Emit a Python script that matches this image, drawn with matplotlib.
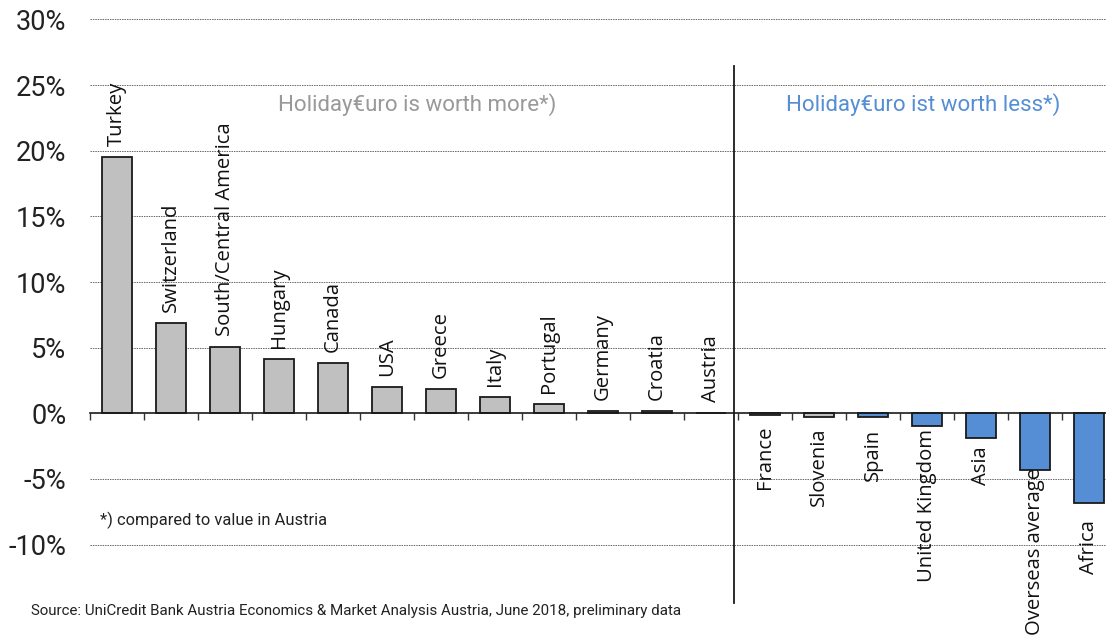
import matplotlib
matplotlib.use('Agg')
import matplotlib.pyplot as plt

countries = ['Turkey', 'Switzerland', 'South/Central America', 'Hungary', 'Canada',
             'USA', 'Greece', 'Italy', 'Portugal', 'Germany', 'Croatia', 'Austria',
             'France', 'Slovenia', 'Spain', 'United Kingdom', 'Asia',
             'Overseas average', 'Africa']
values = [19.5, 6.9, 5.05, 4.15, 3.8, 2.0, 1.85, 1.25, 0.7, 0.2, 0.2, 0.0,
          -0.1, -0.25, -0.3, -1.0, -1.9, -4.35, -6.8]
yticks = [-10, -5, 0, 5, 10, 15, 20, 25, 30]

# label gap from bar end, in points (Excel placed them a bit unevenly)
label_gap = [8] * 12 + [8, 8, 8, 1.5, 6, -2, 12.5]

grey = '#c0c0c0'
blue = '#558ed5'
colors = [grey if v > -0.28 else blue for v in values]

fig = plt.figure(figsize=(11.06, 6.37), dpi=100)
ax = fig.add_axes([90 / 1106, 0.145, 1026 / 1106, 0.8245])

x = list(range(len(countries)))
ax.bar(x, values, width=0.54, color=colors, edgecolor='#1a1a1a', linewidth=1.3, zorder=3)

ax.set_xlim(-0.5, 18.5)
ax.set_ylim(-10, 30)
ax.set_yticks(yticks)
ax.set_yticklabels([f'{t}%' for t in yticks], fontfamily='Roboto', fontsize=19.5, color='#222222')
ax.tick_params(axis='y', length=0, pad=17)

for t in yticks:
    if t != 0:
        ax.axhline(t, color='#666666', lw=0.7, ls=(0, (1.5, 1)), zorder=1, clip_on=False)

# category boundaries as ticks on the zero line
ax.set_xticks([i - 0.5 for i in range(len(countries) + 1)])
ax.set_xticklabels([])
ax.tick_params(axis='x', direction='out', length=5, width=1, color='#333333')

for s in ['top', 'right', 'left']:
    ax.spines[s].set_visible(False)
ax.spines['bottom'].set_position(('data', 0))
ax.spines['bottom'].set_color('#1a1a1a')
ax.spines['bottom'].set_linewidth(1.2)
ax.spines['bottom'].set_zorder(4)

for i, (name, v) in enumerate(zip(countries, values)):
    g = label_gap[i]
    if v >= 0:
        ax.annotate(name, (i, v), xytext=(0, g), textcoords='offset points',
                    rotation=90, ha='center', va='bottom', fontsize=14.6,
                    fontfamily='Open Sans', color='#111111', annotation_clip=False)
    else:
        ax.annotate(name, (i, v), xytext=(0, -g), textcoords='offset points',
                    rotation=90, ha='center', va='top', fontsize=14.6,
                    fontfamily='Open Sans', color='#111111', annotation_clip=False)

# separator between the two groups
ax.plot([11.43, 11.43], [26.45, -14.45], color='#1a1a1a', lw=1.3, clip_on=False, zorder=5)

ax.text(417 / 1106, 1 - 105 / 637, 'Holiday€uro is worth more*)', transform=fig.transFigure,
        ha='center', va='center', fontsize=16, fontfamily='Roboto', color='#999999')
ax.text(923 / 1106, 1 - 105 / 637, 'Holiday€uro ist worth less*)', transform=fig.transFigure,
        ha='center', va='center', fontsize=16, fontfamily='Roboto', color=blue)

fig.text(100 / 1106, 1 - 520 / 637, '*) compared to value in Austria', ha='left', va='center',
         fontsize=11.9, fontfamily='Roboto', color='#222222')
fig.text(31 / 1106, 1 - 611 / 637,
         'Source: UniCredit Bank Austria Economics & Market Analysis Austria, June 2018, preliminary data',
         ha='left', va='center', fontsize=10.9, fontfamily='Roboto', color='#222222')

fig.savefig('out.png', dpi=100)
